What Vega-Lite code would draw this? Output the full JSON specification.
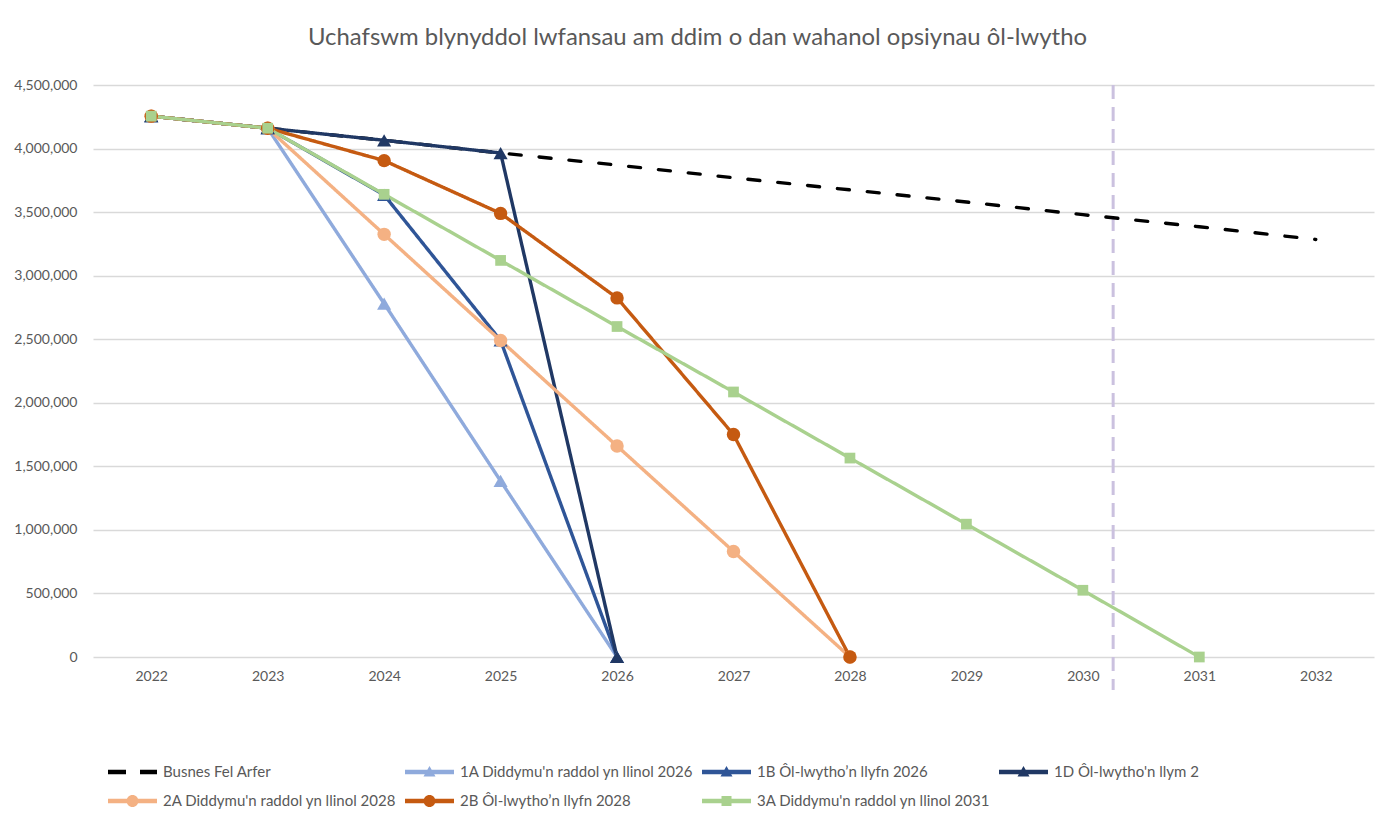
{
  "$schema": "https://vega.github.io/schema/vega-lite/v6.json",
  "width": 1281,
  "height": 572,
  "autosize": {"type": "none"},
  "padding": {"left": 93, "top": 85, "right": 20, "bottom": 166},
  "background": "white",
  "config": {"view": {"stroke": null}, "font": "Lato"},
  "title": {
    "text": "Uchafswm blynyddol lwfansau am ddim o dan wahanol opsiynau ôl-lwytho",
    "font": "Lato",
    "fontSize": 23.9,
    "fontWeight": "normal",
    "color": "#595959",
    "anchor": "middle",
    "dx": -36,
    "offset": 28
  },
  "datasets": {
    "rows": [
      {"s": "Busnes Fel Arfer", "year": 2022, "value": 4255000},
      {"s": "Busnes Fel Arfer", "year": 2023, "value": 4160000},
      {"s": "Busnes Fel Arfer", "year": 2024, "value": 4065000},
      {"s": "Busnes Fel Arfer", "year": 2025, "value": 3965000},
      {"s": "Busnes Fel Arfer", "year": 2026, "value": 3870000},
      {"s": "Busnes Fel Arfer", "year": 2027, "value": 3770000},
      {"s": "Busnes Fel Arfer", "year": 2028, "value": 3675000},
      {"s": "Busnes Fel Arfer", "year": 2029, "value": 3580000},
      {"s": "Busnes Fel Arfer", "year": 2030, "value": 3480000},
      {"s": "Busnes Fel Arfer", "year": 2031, "value": 3385000},
      {"s": "Busnes Fel Arfer", "year": 2032, "value": 3285000},
      {"s": "1A Diddymu'n raddol yn llinol 2026", "year": 2022, "value": 4255000},
      {"s": "1A Diddymu'n raddol yn llinol 2026", "year": 2023, "value": 4160000},
      {"s": "1A Diddymu'n raddol yn llinol 2026", "year": 2024, "value": 2780000},
      {"s": "1A Diddymu'n raddol yn llinol 2026", "year": 2025, "value": 1385000},
      {"s": "1A Diddymu'n raddol yn llinol 2026", "year": 2026, "value": 0},
      {"s": "1B Ôl-lwytho’n llyfn 2026", "year": 2022, "value": 4255000},
      {"s": "1B Ôl-lwytho’n llyfn 2026", "year": 2023, "value": 4160000},
      {"s": "1B Ôl-lwytho’n llyfn 2026", "year": 2024, "value": 3635000},
      {"s": "1B Ôl-lwytho’n llyfn 2026", "year": 2025, "value": 2490000},
      {"s": "1B Ôl-lwytho’n llyfn 2026", "year": 2026, "value": 0},
      {"s": "1D Ôl-lwytho'n llym 2", "year": 2022, "value": 4255000},
      {"s": "1D Ôl-lwytho'n llym 2", "year": 2023, "value": 4160000},
      {"s": "1D Ôl-lwytho'n llym 2", "year": 2024, "value": 4065000},
      {"s": "1D Ôl-lwytho'n llym 2", "year": 2025, "value": 3965000},
      {"s": "1D Ôl-lwytho'n llym 2", "year": 2026, "value": 0},
      {"s": "2A Diddymu'n raddol yn llinol 2028", "year": 2022, "value": 4255000},
      {"s": "2A Diddymu'n raddol yn llinol 2028", "year": 2023, "value": 4160000},
      {"s": "2A Diddymu'n raddol yn llinol 2028", "year": 2024, "value": 3325000},
      {"s": "2A Diddymu'n raddol yn llinol 2028", "year": 2025, "value": 2490000},
      {"s": "2A Diddymu'n raddol yn llinol 2028", "year": 2026, "value": 1660000},
      {"s": "2A Diddymu'n raddol yn llinol 2028", "year": 2027, "value": 830000},
      {"s": "2A Diddymu'n raddol yn llinol 2028", "year": 2028, "value": 0},
      {"s": "2B Ôl-lwytho’n llyfn 2028", "year": 2022, "value": 4255000},
      {"s": "2B Ôl-lwytho’n llyfn 2028", "year": 2023, "value": 4160000},
      {"s": "2B Ôl-lwytho’n llyfn 2028", "year": 2024, "value": 3905000},
      {"s": "2B Ôl-lwytho’n llyfn 2028", "year": 2025, "value": 3490000},
      {"s": "2B Ôl-lwytho’n llyfn 2028", "year": 2026, "value": 2825000},
      {"s": "2B Ôl-lwytho’n llyfn 2028", "year": 2027, "value": 1750000},
      {"s": "2B Ôl-lwytho’n llyfn 2028", "year": 2028, "value": 0},
      {"s": "3A Diddymu'n raddol yn llinol 2031", "year": 2022, "value": 4255000},
      {"s": "3A Diddymu'n raddol yn llinol 2031", "year": 2023, "value": 4160000},
      {"s": "3A Diddymu'n raddol yn llinol 2031", "year": 2024, "value": 3640000},
      {"s": "3A Diddymu'n raddol yn llinol 2031", "year": 2025, "value": 3120000},
      {"s": "3A Diddymu'n raddol yn llinol 2031", "year": 2026, "value": 2600000},
      {"s": "3A Diddymu'n raddol yn llinol 2031", "year": 2027, "value": 2085000},
      {"s": "3A Diddymu'n raddol yn llinol 2031", "year": 2028, "value": 1565000},
      {"s": "3A Diddymu'n raddol yn llinol 2031", "year": 2029, "value": 1045000},
      {"s": "3A Diddymu'n raddol yn llinol 2031", "year": 2030, "value": 525000},
      {"s": "3A Diddymu'n raddol yn llinol 2031", "year": 2031, "value": 0}
    ],
    "marker": [
      {"year": 2030.26, "top": 4500000, "bottom": -260000}
    ]
  },
  "layer": [
    {
      "data": {"name": "marker"},
      "mark": {"type": "rule", "color": "#CBC1DF", "strokeWidth": 3, "strokeDash": [14, 8]},
      "encoding": {
        "x": {"field": "year", "type": "quantitative", "scale": {"domain": [2021.5, 2032.5], "nice": false, "zero": false},
          "axis": {"title": null, "values": [2022, 2023, 2024, 2025, 2026, 2027, 2028, 2029, 2030, 2031, 2032], "format": "d", "grid": false, "domain": false, "ticks": false, "labelFont": "Lato", "labelFontSize": 14, "labelColor": "#595959", "labelPadding": 12}},
        "y": {"field": "top", "type": "quantitative", "scale": {"domain": [0, 4500000], "nice": false},
          "axis": {"title": null, "values": [0, 500000, 1000000, 1500000, 2000000, 2500000, 3000000, 3500000, 4000000, 4500000], "format": ",d", "grid": true, "gridColor": "#D9D9D9", "gridWidth": 1.3, "domain": false, "ticks": false, "labelFont": "Lato", "labelFontSize": 14, "labelColor": "#595959", "labelPadding": 16}},
        "y2": {"field": "bottom"}
      }
    },
    {
      "data": {"name": "rows"},
      "mark": {"type": "line", "strokeCap": "round", "strokeJoin": "round"},
      "encoding": {
        "x": {"field": "year", "type": "quantitative"},
        "y": {"field": "value", "type": "quantitative"},
        "color": {
          "field": "s",
          "type": "nominal",
          "scale": {"range": ["#8FAADC", "#2F5597", "#203864", "#F4B183", "#C55A11", "#A9D18E", "#000000"]},
          "legend": null
        },
        "strokeDash": {
          "field": "s",
          "type": "nominal",
          "scale": {"range": [[1, 0], [1, 0], [1, 0], [1, 0], [1, 0], [1, 0], [12, 18]]},
          "legend": null
        },
        "strokeWidth": {
          "field": "s",
          "type": "nominal",
          "scale": {"range": [3.4, 3.4, 3.4, 3.4, 3.4, 3.4, 4]},
          "legend": null
        }
      }
    },
    {
      "data": {"name": "rows"},
      "transform": [{"filter": {"field": "s", "oneOf": ["1A Diddymu'n raddol yn llinol 2026", "1B Ôl-lwytho’n llyfn 2026", "1D Ôl-lwytho'n llym 2"]}}],
      "mark": {"type": "point", "shape": "triangle-up", "filled": true, "opacity": 1, "size": 200},
      "encoding": {
        "x": {"field": "year", "type": "quantitative"},
        "y": {"field": "value", "type": "quantitative"},
        "color": {"field": "s", "type": "nominal", "legend": null}
      }
    },
    {
      "data": {"name": "rows"},
      "transform": [{"filter": {"field": "s", "oneOf": ["2A Diddymu'n raddol yn llinol 2028", "2B Ôl-lwytho’n llyfn 2028"]}}],
      "mark": {"type": "point", "shape": "circle", "filled": true, "opacity": 1, "size": 180},
      "encoding": {
        "x": {"field": "year", "type": "quantitative"},
        "y": {"field": "value", "type": "quantitative"},
        "color": {"field": "s", "type": "nominal", "legend": null}
      }
    },
    {
      "data": {"name": "rows"},
      "transform": [{"filter": {"field": "s", "oneOf": ["3A Diddymu'n raddol yn llinol 2031"]}}],
      "mark": {"type": "point", "shape": "square", "filled": true, "opacity": 1, "size": 115},
      "encoding": {
        "x": {"field": "year", "type": "quantitative"},
        "y": {"field": "value", "type": "quantitative"},
        "color": {"field": "s", "type": "nominal", "legend": null}
      }
    },
    {
      "data": {"name": "rows"},
      "transform": [{"filter": "datum.value < 0"}],
      "mark": {"type": "point", "filled": true, "opacity": 1},
      "encoding": {
        "x": {"field": "year", "type": "quantitative"},
        "y": {"field": "value", "type": "quantitative"},
        "fill": {
          "field": "s",
          "type": "nominal",
          "scale": {
            "domain": ["Busnes Fel Arfer", "1A Diddymu'n raddol yn llinol 2026", "1B Ôl-lwytho’n llyfn 2026", "1D Ôl-lwytho'n llym 2", "2A Diddymu'n raddol yn llinol 2028", "2B Ôl-lwytho’n llyfn 2028", "3A Diddymu'n raddol yn llinol 2031"],
            "range": ["#000000", "#8FAADC", "#2F5597", "#203864", "#F4B183", "#C55A11", "#A9D18E"]
          },
          "legend": {
            "title": null, "orient": "none", "direction": "horizontal", "legendX": 43, "legendY": 676, "columns": 4, "symbolSize": 400, "padding": 0,
            "labelFont": "Lato", "labelFontSize": 15, "labelColor": "#595959", "labelOffset": 5, "columnPadding": 5, "rowPadding": 10, "labelLimit": 400
          }
        },
        "shape": {
          "field": "s",
          "type": "nominal",
          "scale": {
            "domain": ["Busnes Fel Arfer", "1A Diddymu'n raddol yn llinol 2026", "1B Ôl-lwytho’n llyfn 2026", "1D Ôl-lwytho'n llym 2", "2A Diddymu'n raddol yn llinol 2028", "2B Ôl-lwytho’n llyfn 2028", "3A Diddymu'n raddol yn llinol 2031"],
            "range": [
              "M-3.9,-0.22H-2.1V0.22H-3.9Z M-0.7,-0.22H1V0.22H-0.7Z",
              "M-3.9,-0.22H1V0.22H-3.9Z M-1.45,-0.6L-0.85,0.45L-2.05,0.45Z",
              "M-3.9,-0.22H1V0.22H-3.9Z M-1.45,-0.6L-0.85,0.45L-2.05,0.45Z",
              "M-3.9,-0.22H1V0.22H-3.9Z M-1.45,-0.6L-0.85,0.45L-2.05,0.45Z",
              "M-3.9,-0.22H1V0.22H-3.9Z M-2.05,0A0.6,0.6 0 1,1 -0.85,0A0.6,0.6 0 1,1 -2.05,0Z",
              "M-3.9,-0.22H1V0.22H-3.9Z M-2.05,0A0.6,0.6 0 1,1 -0.85,0A0.6,0.6 0 1,1 -2.05,0Z",
              "M-3.9,-0.22H1V0.22H-3.9Z M-1.95,-0.5H-0.95V0.5H-1.95Z"
            ]
          },
          "legend": {
            "title": null, "orient": "none", "direction": "horizontal", "legendX": 43, "legendY": 676, "columns": 4, "symbolSize": 400, "padding": 0,
            "labelFont": "Lato", "labelFontSize": 15, "labelColor": "#595959", "labelOffset": 5, "columnPadding": 5, "rowPadding": 10, "labelLimit": 400
          }
        }
      }
    }
  ]
}
